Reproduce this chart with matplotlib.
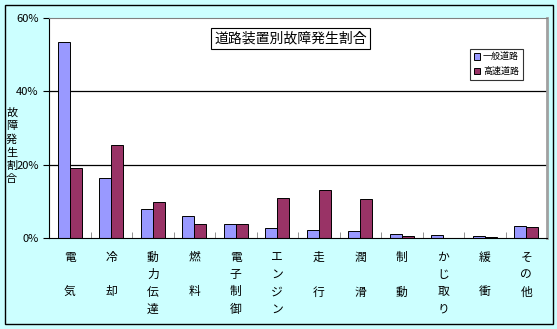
import matplotlib
matplotlib.use('Agg')
import matplotlib.pyplot as plt
import numpy as np
from matplotlib.patches import Rectangle

plt.rcParams['font.family'] = ['Noto Sans CJK JP', 'DejaVu Sans']

categories = ['電\n\n気', '冷\n\n却', '動\n力\n伝\n達', '燃\n\n料', '電\n子\n制\n御', 'エ\nン\nジ\nン',
              '走\n\n行', '潤\n\n滑', '制\n\n動', 'か\nじ\n取\nり', '緩\n\n衝', 'そ\nの\n他']
ippan = [53.5, 16.4, 7.9, 6.0, 3.8, 2.7, 2.2, 1.9, 1.1, 0.8, 0.5, 3.3]
kosoku = [19.1, 25.4, 9.8, 3.8, 3.8, 10.9, 13.1, 10.6, 0.5, 0.0, 0.3, 3.0]
yticks = [0, 20, 40, 60]

fig = plt.figure(figsize=(5.57, 3.29), dpi=100)
fig.patch.set_facecolor('#CCFFFF')
fig.patches.append(Rectangle((5/557, 5/329), 548/557, 319/329, transform=fig.transFigure,
                             fill=False, edgecolor='black', lw=1))
ax = fig.add_axes([49/557, 91/329, 498/557, 220/329])

x = np.arange(len(categories))
w = 0.29
ax.bar(x - w/2, ippan, w, color='#9999FF', edgecolor='black', lw=0.7, label='一般道路')
ax.bar(x + w/2, kosoku, w, color='#993366', edgecolor='black', lw=0.7, label='高速道路')

ax.set_xlim(-0.5, len(categories) - 0.5)
ax.set_ylim(0, 60)
ax.set_yticks(yticks)
ax.set_yticklabels([str(v) + '%' for v in yticks], fontsize=8)
for v in [20, 40]:
    ax.axhline(v, color='black', lw=0.9, zorder=0)

ax.set_xticks(np.arange(len(categories) + 1) - 0.5, minor=True)
ax.set_xticks(x)
ax.set_xticklabels(categories, fontsize=8.5, linespacing=1.45, va='top')
ax.tick_params(axis='x', which='major', length=0, pad=9)
ax.tick_params(axis='x', which='minor', length=4, direction='in', color='gray')
ax.tick_params(axis='y', length=4, direction='out')

ax.spines['top'].set_color('gray')
ax.spines['right'].set_color('#A0A0A0')
ax.spines['right'].set_linewidth(2)
ax.spines['left'].set_color('black')
ax.spines['bottom'].set_color('black')

ax.set_ylabel('故\n障\n発\n生\n割\n合', rotation=0, fontsize=8, linespacing=1.4, labelpad=0,
              va='center', ha='center')
ax.yaxis.set_label_coords(-0.075, 0.42)

ax.text(0.485, 0.905, '道路装置別故障発生割合', transform=ax.transAxes, ha='center', va='center',
        fontsize=10, bbox=dict(boxstyle='square,pad=0.25', facecolor='white', edgecolor='black', lw=0.8))

leg = ax.legend(loc='upper right', bbox_to_anchor=(0.96, 0.88), fontsize=6.5, frameon=True,
                fancybox=False, edgecolor='black', handlelength=0.7, handleheight=0.7,
                handletextpad=0.3, borderpad=0.4, labelspacing=0.6)
leg.get_frame().set_linewidth(0.8)

fig.savefig('out.png', dpi=100, facecolor=fig.get_facecolor())
